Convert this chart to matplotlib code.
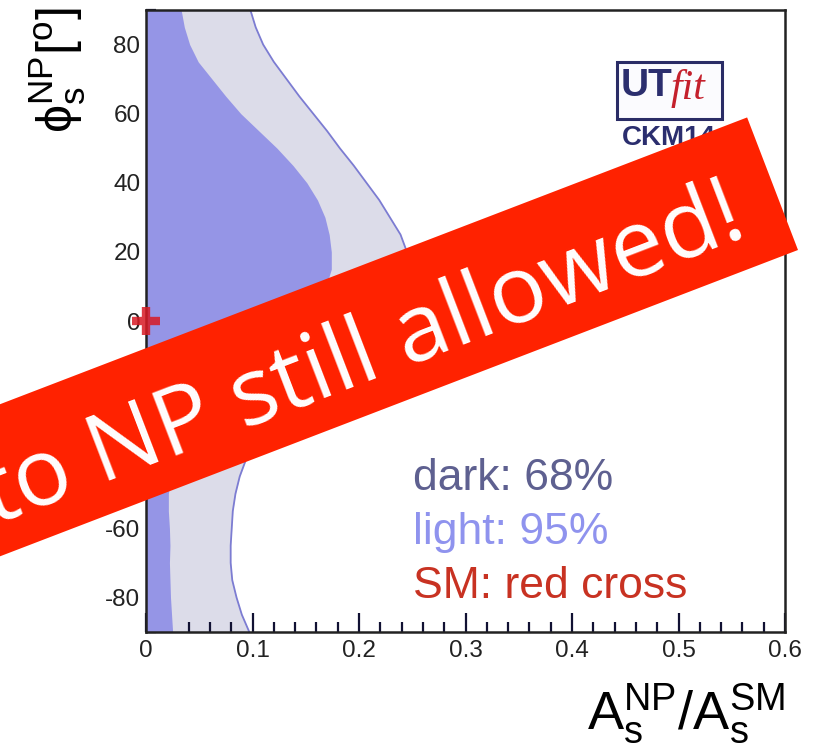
import numpy as np
import matplotlib
matplotlib.use("Agg")
import matplotlib.pyplot as plt
from matplotlib.patches import Rectangle
from matplotlib.transforms import Affine2D

plt.rcParams['font.family'] = ['Liberation Sans', 'DejaVu Sans']
plt.rcParams['mathtext.fontset'] = 'custom'
plt.rcParams['mathtext.rm'] = 'Liberation Sans'
plt.rcParams['mathtext.it'] = 'Liberation Sans:italic'
plt.rcParams['mathtext.fallback'] = 'stixsans'
plt.rcParams['axes.unicode_minus'] = False

# ---- data ----
phi = [90, 85, 80, 75, 70, 65, 60, 55, 50, 45, 40, 35, 30, 25, 20, 15, 10, 5, 0,
       -5, -10, -15, -20, -25, -30, -35, -40, -45, -50, -55, -60, -65, -70, -75, -80, -85, -90]
dark_edge = [0.033, 0.036, 0.041, 0.049, 0.062, 0.075, 0.089, 0.106, 0.123, 0.138, 0.151,
             0.161, 0.168, 0.172, 0.174, 0.174, 0.169, 0.160, 0.148, 0.133, 0.115, 0.097,
             0.079, 0.062, 0.046, 0.035, 0.027, 0.023, 0.021, 0.021, 0.022, 0.0225, 0.022,
             0.0225, 0.023, 0.024, 0.025]
light_edge = [0.098, 0.103, 0.110, 0.120, 0.132, 0.144, 0.157, 0.170, 0.182, 0.195, 0.207,
              0.219, 0.229, 0.239, 0.245, 0.249, 0.248, 0.243, 0.233, 0.218, 0.200, 0.180,
              0.160, 0.140, 0.122, 0.106, 0.094, 0.088, 0.084, 0.0815, 0.0805, 0.0795, 0.0795,
              0.081, 0.085, 0.090, 0.097]
sm_point = (0.0, 0.0)
x_ticks = [0, 0.1, 0.2, 0.3, 0.4, 0.5, 0.6]
x_ticklabels = ['0', '0.1', '0.2', '0.3', '0.4', '0.5', '0.6']
y_ticks = [-80, -60, -40, -20, 0, 20, 40, 60, 80]
legend_lines = ['dark: 68%', 'light: 95%', 'SM: red cross']
banner_text = 'to NP still allowed!'

W, H = 813, 747
fig = plt.figure(figsize=(W / 100, H / 100), dpi=100)
ax = fig.add_axes([146 / W, 115 / H, 639 / W, 622 / H])

DARK = '#9595e6'
LIGHT = '#dcdce9'
EDGE = '#7c7cd2'

ax.fill_betweenx(phi, 0, light_edge, color=LIGHT, lw=0, zorder=1)
ax.plot(light_edge, phi, color=EDGE, lw=1.3, zorder=2)
ax.fill_betweenx(phi, 0, dark_edge, color=DARK, lw=0, zorder=3)

ax.plot([sm_point[0]], [sm_point[1]], marker='+', ms=20, mew=6, color='#d81a24',
        alpha=0.85, clip_on=False, zorder=10)

ax.set_xlim(0, 0.6)
ax.set_ylim(-90, 90)
ax.set_xticks(x_ticks)
ax.set_xticklabels(x_ticklabels)
ax.set_yticks(y_ticks)
ax.set_xticks(np.arange(0, 0.6001, 0.02), minor=True)
ax.set_yticks(np.arange(-90, 90.01, 5), minor=True)
ax.tick_params(which='both', direction='in', top=False, right=False, color='#111133',
               labelsize=17.5, labelcolor='#222222')
ax.tick_params(which='major', length=14, width=1.6)
ax.tick_params(which='minor', length=7, width=1.6)
ax.tick_params(axis='x', pad=6)
ax.tick_params(axis='y', pad=4)
for s in ax.spines.values():
    s.set_linewidth(1.8)
    s.set_color('#222222')
    s.set_zorder(5)

# axis labels
fig.text(785 / W, 17 / H, r'A$^{\rm NP}_{\rm s}$/A$^{\rm SM}_{\rm s}$', fontsize=39,
         ha='right', va='baseline', color='black')
fig.text(58 / W, 740 / H, r'$\mathrm{\phi}^{\rm NP}_{\rm s}$[$^{\rm o}$]', fontsize=36,
         rotation=90, ha='center', va='top', color='black')

# legend texts
leg_colors = ['#5e6090', '#8f93ee', '#c83222']
for i, (t, c) in enumerate(zip(legend_lines, leg_colors)):
    fig.text(413 / W, (H - (490 + 54 * i)) / H, t, fontsize=32, color=c,
             ha='left', va='baseline')

# UTfit logo
fig.patches.append(Rectangle((617 / W, (H - 119) / H), 105 / W, 57 / H,
                             transform=fig.transFigure, fill=True, fc='#fbfbfe',
                             ec='#2a2c66', lw=2.2, zorder=6))
fig.text(621 / W, (H - 96) / H, 'UT', fontsize=28, fontweight='bold', color='#2b2e6e',
         ha='left', va='baseline', zorder=7)
fig.text(671 / W, (H - 99) / H, 'fit', fontsize=30, fontstyle='italic',
         family='Liberation Serif', color='#c4202c', ha='left', va='baseline', zorder=7)
fig.text(622 / W, (H - 145) / H, 'CKM14', fontsize=20, fontweight='bold', color='#2b2e6e',
         ha='left', va='baseline', zorder=7)

# red banner
px = Affine2D().scale(1 / W, 1 / H) + fig.transFigure
local = Affine2D().rotate_deg(21).translate(798, H - 250) + px
fig.patches.append(Rectangle((-1200, 0), 1200, 142, transform=local, fc='#ff2200',
                             ec='none', zorder=20))
fig.text(-40, 31, banner_text, transform=local, fontsize=68, family='Open Sans',
         color='white', rotation=21, rotation_mode='anchor', ha='right', va='baseline',
         zorder=21)

fig.savefig('out.png', dpi=100)
